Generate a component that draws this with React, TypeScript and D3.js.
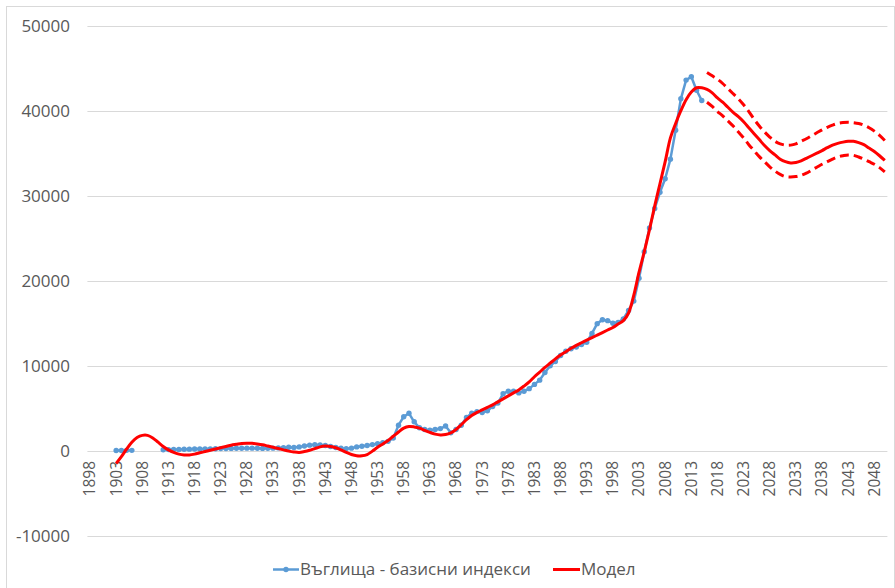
import React, { useEffect, useRef } from 'react';
import * as d3 from 'd3';

// category axis: one slot per year
const firstYear = 1898;
const lastYear = 2050;
const years = d3.range(firstYear, lastYear + 1);
const yTicks = [-10000, 0, 10000, 20000, 30000, 40000, 50000];

// Въглища - базисни индекси (two runs, gap 1907-1911)
const coalEarlyStart = 1903;
const coalEarly = [30, 30, 40, 40];
const coalStart = 1912;
const coal = [
  120, 130, 140, 150, 170, 180, 200, 210, 200, 220, // 1912-1921
  230, 250, 260, 270, 280, 290, 300, 300, 280, 270, // 1922-1931
  290, 300, 330, 350, 400, 380, 450, 550, 650, 700, // 1932-1941
  680, 620, 500, 380, 280, 250, 300, 450, 520, 620, // 1942-1951
  720, 820, 950, 1100, 1500, 3000, 4000, 4400, 3400, 2700, // 1952-1961
  2500, 2400, 2500, 2600, 2900, 2100, 2500, 3000, 3900, 4400, // 1962-1971
  4600, 4500, 4700, 5200, 5600, 6700, 7000, 7000, 6800, 7000, // 1972-1981
  7300, 7800, 8300, 9200, 10000, 10500, 11200, 11700, 12000, 12200, // 1982-1991
  12500, 12750, 13800, 14950, 15400, 15300, 15000, 15100, 15500, 16500, // 1992-2001
  17600, 20300, 23400, 26200, 28500, 30400, 32000, 34300, 37700, 41400, // 2002-2011
  43600, 44000, 42400, 41200 // 2012-2015
];

// Модел
const modelStart = 1903;
const model = [
  -1500, -700, 200, 1000, 1550, 1800, 1800, 1500, 1000, 500, // 1903-1912
  100, -200, -400, -500, -500, -400, -250, -100, 50, 200, // 1913-1922
  350, 500, 650, 750, 850, 880, 870, 800, 700, 550, // 1923-1932
  400, 250, 100, -50, -150, -200, -100, 50, 250, 450, // 1933-1942
  550, 500, 350, 100, -200, -450, -600, -600, -450, -50, // 1943-1952
  400, 800, 1200, 1700, 2200, 2650, 2850, 2800, 2650, 2400, // 1953-1962
  2150, 1950, 1850, 1900, 2100, 2500, 3050, 3650, 4150, 4500, // 1963-1972
  4800, 5100, 5400, 5750, 6100, 6450, 6800, 7150, 7600, 8100, // 1973-1982
  8700, 9250, 9800, 10300, 10800, 11250, 11650, 12050, 12400, 12700, // 1983-1992
  13000, 13300, 13600, 13900, 14200, 14500, 14900, 15300, 16200, 18300, // 1993-2002
  21000, 23400, 26000, 28800, 31400, 34000, 36800, 38500, 40000, 41300, // 2003-2012
  42200, 42700, 42700, 42500, 42100, 41500, 41000, 40400, 39800, 39300, // 2013-2022
  38700, 38000, 37300, 36600, 35900, 35300, 34800, 34300, 34000, 33850, // 2023-2032
  33900, 34100, 34400, 34700, 35000, 35300, 35650, 35950, 36150, 36300, // 2033-2042
  36400, 36400, 36250, 36000, 35600, 35200, 34700, 34150 // 2043-2050
];

// forecast band (dashed)
const bandStart = 2016;
const upper = [
  44500, 44100, 43700, 43200, 42600, 42000, 41400, 40700, 39900, 39000, // 2016-2025
  38200, 37500, 36900, 36400, 36100, 35950, 35950, 36100, 36400, 36700, // 2026-2035
  37050, 37400, 37750, 38050, 38300, 38500, 38600, 38650, 38600, 38500, // 2036-2045
  38300, 38000, 37600, 37100, 36500 // 2046-2050
];
const lower = [
  41000, 40500, 39900, 39400, 38800, 38200, 37500, 36800, 36000, 35300, // 2016-2025
  34600, 34000, 33400, 32900, 32500, 32250, 32200, 32250, 32400, 32650, // 2026-2035
  33000, 33350, 33700, 34000, 34300, 34550, 34700, 34800, 34750, 34550, // 2036-2045
  34300, 34000, 33700, 33300, 32800 // 2046-2050
];

const blue = '#5B9BD5';
const red = '#FF0000';
const textColor = '#595959';
const font = '"Open Sans", sans-serif';

const App = () => {
  const ref = useRef(null);

  useEffect(() => {
    const svg = d3.select(ref.current);
    svg.selectAll('*').remove();

    const xScale = d3.scaleBand()
      .domain(years.map(String))
      .range([87.4, 887.4]);
    const cx = (yr) => xScale(String(yr)) + xScale.bandwidth() / 2;

    const yScale = d3.scaleLinear()
      .domain([-10000, 50000])
      .range([535.7, 25.7]);

    // chart border
    svg.append('rect')
      .attr('x', 6.5).attr('y', 6.5)
      .attr('width', 888).attr('height', 600)
      .attr('fill', 'white')
      .attr('stroke', '#D9D9D9');

    // gridlines
    svg.append('g')
      .selectAll('line')
      .data(yTicks)
      .enter().append('line')
      .attr('x1', 87.4).attr('x2', 887.4)
      .attr('y1', d => Math.round(yScale(d)) + 0.5)
      .attr('y2', d => Math.round(yScale(d)) + 0.5)
      .attr('stroke', '#D9D9D9')
      .attr('stroke-width', 1);

    // y tick labels
    svg.append('g')
      .selectAll('text')
      .data(yTicks)
      .enter().append('text')
      .attr('x', 70)
      .attr('y', d => yScale(d))
      .attr('dy', '0.35em')
      .attr('text-anchor', 'end')
      .style('font-family', font)
      .style('font-size', '17px')
      .style('fill', textColor)
      .text(d => d);

    // x tick labels, every 5th year, rotated
    const labelYears = years.filter(yr => (yr - firstYear) % 5 === 0);
    svg.append('g')
      .selectAll('text')
      .data(labelYears)
      .enter().append('text')
      .attr('transform', d => `translate(${cx(d)}, 461) rotate(-90)`)
      .attr('dy', '0.35em')
      .attr('text-anchor', 'end')
      .style('font-family', font)
      .style('font-size', '15.5px')
      .style('fill', textColor)
      .text(d => d);

    // coal series
    const coalPts = [
      ...coalEarly.map((v, i) => ({ year: coalEarlyStart + i, v })),
      ...d3.range(coalEarlyStart + coalEarly.length, coalStart).map(yr => ({ year: yr, v: null })),
      ...coal.map((v, i) => ({ year: coalStart + i, v }))
    ];
    const coalLine = d3.line()
      .defined(d => d.v !== null)
      .x(d => cx(d.year))
      .y(d => yScale(d.v));

    svg.append('path')
      .datum(coalPts)
      .attr('d', coalLine)
      .attr('fill', 'none')
      .attr('stroke', blue)
      .attr('stroke-width', 2.5)
      .attr('stroke-linejoin', 'round');

    svg.append('g')
      .selectAll('circle')
      .data(coalPts.filter(d => d.v !== null))
      .enter().append('circle')
      .attr('cx', d => cx(d.year))
      .attr('cy', d => yScale(d.v))
      .attr('r', 2.7)
      .attr('fill', blue);

    // model + band
    const smooth = d3.line()
      .x(d => cx(d.year))
      .y(d => yScale(d.v))
      .curve(d3.curveCatmullRom);

    const toPts = (arr, start) => arr.map((v, i) => ({ year: start + i, v }));

    [upper, lower].forEach(arr => {
      svg.append('path')
        .datum(toPts(arr, bandStart))
        .attr('d', smooth)
        .attr('fill', 'none')
        .attr('stroke', red)
        .attr('stroke-width', 3)
        .attr('stroke-dasharray', '9,5');
    });

    svg.append('path')
      .datum(toPts(model, modelStart))
      .attr('d', smooth)
      .attr('fill', 'none')
      .attr('stroke', red)
      .attr('stroke-width', 3)
      .attr('stroke-linejoin', 'round');

    // legend
    const ly = 569.5;
    const leg = svg.append('g');
    leg.append('line')
      .attr('x1', 273).attr('x2', 299)
      .attr('y1', ly).attr('y2', ly)
      .attr('stroke', blue).attr('stroke-width', 2.5);
    leg.append('circle')
      .attr('cx', 286).attr('cy', ly).attr('r', 2.7)
      .attr('fill', blue);
    leg.append('text')
      .attr('x', 300).attr('y', ly).attr('dy', '0.35em')
      .style('font-family', font).style('font-size', '17px')
      .style('fill', textColor)
      .text('Въглища - базисни индекси');
    leg.append('line')
      .attr('x1', 553).attr('x2', 580)
      .attr('y1', ly).attr('y2', ly)
      .attr('stroke', red).attr('stroke-width', 3);
    leg.append('text')
      .attr('x', 581).attr('y', ly).attr('dy', '0.35em')
      .style('font-family', font).style('font-size', '17px')
      .style('fill', textColor)
      .text('Модел');
  }, []);

  return (
    <svg ref={ref} width={895} height={588}
      style={{ position: 'absolute', left: 0, top: 0, background: 'white' }} />
  );
};

export default App;
